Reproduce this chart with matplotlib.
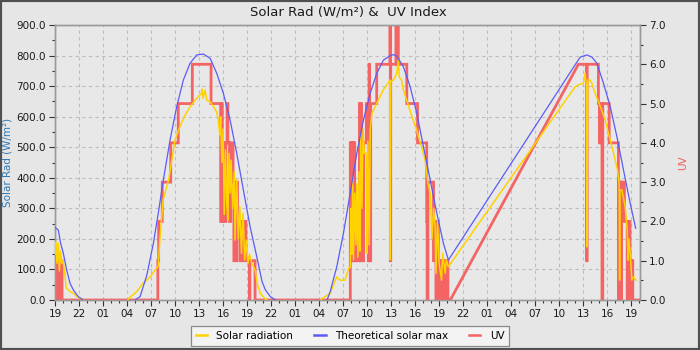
import matplotlib
matplotlib.use("Agg")
import matplotlib.pyplot as plt
import numpy as np
from matplotlib.ticker import MultipleLocator, FormatStrFormatter
from matplotlib.patches import Rectangle
from matplotlib.lines import Line2D

nan = np.nan

# ---- data (hours since 19:00 of the first day) ----
tick_hours = list(range(0, 73, 3))
tick_labels = ["19", "22", "01", "04", "07", "10", "13", "16",
               "19", "22", "01", "04", "07", "10", "13", "16",
               "19", "22", "01", "04", "07", "10", "13", "16", "19"]

solar_t = [0.0, 0.1, 0.25, 0.4, 0.55, 0.7, 0.85, 1.0, 1.2, 1.4, 1.65, 2.0, 2.3, 2.7, 3.2, 3.6,
           6.0,
           9.1, 9.2, 10.2, 11.0, 11.9, 12.5, 12.9, 13.1, 13.5, 14.2, 14.6, 15.0, 15.6, 16.25, 16.9,
           17.5, 17.9, 18.3, 18.4, 18.5, 18.75, 18.96, 19.4, 19.8, 20.2, 20.4, 20.6, 20.7, 20.85,
           21.0, 21.15, 21.3, 21.45, 21.6, 21.75, 21.9, 22.0, 22.2, 22.4, 22.5, 22.7, 22.9, 23.1,
           23.3, 23.5, 23.7, 23.9, 24.1, 24.3, 24.6, 25.0, 25.3, 25.7, 26.2, 26.5,
           30.0,
           33.2, 33.4, 34.4, 35.2, 35.6, 36.25, 36.7, 36.9, 37.0, 37.1, 37.2, 37.3, 37.45, 37.6,
           37.7, 37.85, 38.0, 38.1, 38.2, 38.35, 38.5, 38.65, 38.9, 39.0, 39.1, 39.25, 39.4, 39.6,
           40.2, 41.0, 41.6, 41.85, 41.9, 41.95, 42.3, 42.7, 42.9, 43.0, 43.3, 43.5, 43.95, 44.6,
           45.2, 45.8, 46.25, 46.6, 46.9, 47.1, 47.3, 47.5, 47.6, 47.8, 48.0, 48.3, 48.45, 48.75,
           48.9, 49.15,
           65.0, 65.5, 66.04, 66.25, 66.4, 66.46, 66.52, 66.58, 66.875, 67.09, 67.5, 67.9, 68.3,
           68.75, 69.16, 69.6, 70.0, 70.29, 70.5, 70.55, 70.6, 70.83, 71.25, 71.5, 71.6, 71.7,
           71.875, 72.08, 72.3, 72.6]
solar_v = [150, 190, 120, 185, 95, 160, 120, 130, 90, 40, 33, 25, 22, 12, 5, 0,
           nan,
           0, 5, 27, 55, 76, 98, 110, 196, 327, 393, 458, 524, 567, 605, 633,
           654, 665, 676, 690, 660, 687, 654, 649, 633, 616, 589, 540, 600, 450,
           560, 280, 491, 320, 262, 480, 350, 458, 300, 420, 196, 393, 200, 305,
           153, 284, 131, 196, 120, 150, 120, 98, 50, 20, 5, 0,
           nan,
           0, 5, 22, 76, 65, 65, 104, 107, 300, 150, 404, 131, 350, 180,
           380, 140, 420, 160, 545, 300, 560, 480, 480, 153, 520, 180, 560, 611,
           643, 687, 709, 720, 131, 715, 720, 742, 785, 730, 720, 690, 654, 600,
           556, 502, 458, 382, 349, 200, 300, 240, 87, 262, 120, 65, 153, 87,
           131, 109,
           698, 705, 710, 742, 700, 174, 447, 720, 720, 709, 676, 649, 622,
           589, 545, 502, 458, 425, 380, 65, 360, 360, 305, 230, 130, 200,
           153, 65, 76, 65]

theo_t = [0.0, 0.41, 0.71, 1.04, 1.46, 1.88, 2.29, 2.91, 3.54,
          6.0,
          10.0, 10.63, 11.46, 12.29, 12.88, 13.54, 14.38, 15.21, 16.04, 16.88, 17.71, 18.54,
          19.38, 20.21, 21.04, 21.88, 22.71, 23.54, 24.38, 25.21, 25.88, 26.29, 26.91, 27.54,
          30.0,
          34.0, 34.38, 35.21, 36.04, 36.88, 37.71, 38.54, 39.38, 40.21, 41.04, 41.9, 42.3,
          42.71, 43.54, 44.38, 45.21, 46.04, 46.88, 47.71, 48.54, 49.16,
          65.0, 65.63, 66.46, 67.09, 67.71, 68.54, 69.38, 70.21, 71.04, 71.88, 72.56]
theo_v = [238, 229, 185, 153, 98, 55, 33, 11, 0,
          nan,
          0, 11, 80, 185, 280, 393, 524, 633, 720, 775, 802, 805,
          791, 742, 676, 589, 480, 360, 240, 142, 60, 33, 11, 0,
          nan,
          0, 27, 109, 218, 349, 480, 589, 676, 742, 785, 800, 803,
          798, 763, 698, 611, 502, 393, 284, 185, 131,
          770, 795, 802, 795, 775, 709, 633, 535, 425, 316, 235]

# UV index as steps: value holds from each time until the next one
uv_t = [0.0, 0.12, 0.17, 0.3, 0.35, 0.5, 0.55, 0.7, 0.75, 0.88,
        12.85, 12.95, 13.4, 14.46, 15.4, 17.16, 19.5,
        20.7, 20.8, 20.9, 21.0, 21.2, 21.35, 21.5, 21.6, 21.8, 21.95,
        22.25, 22.35, 22.45, 22.6, 22.7, 22.8, 23.1, 23.2, 23.5, 23.6, 23.85, 24.3, 24.35, 25.0,
        36.9, 37.0, 37.05, 37.15, 37.2, 37.3, 37.35, 37.45, 37.7, 37.75,
        38.05, 38.15, 38.2, 38.3, 38.5, 38.55, 38.9, 39.15, 39.25, 39.3, 39.45,
        40.2, 41.85, 41.9, 41.95, 42.6, 42.7, 42.75, 42.9, 43.96, 45.3,
        46.45, 46.5, 46.6, 47.3, 47.4, 47.6, 47.7, 47.9,
        48.0, 48.1, 48.3, 48.4, 48.6, 48.7, 48.85, 48.95, 49.1,
        49.4, 65.4,
        66.43, 66.5, 67.9, 68.05, 68.1, 68.35, 68.45, 69.25,
        70.4, 70.5, 70.75, 70.8, 71.15, 71.5, 71.55, 71.65, 71.75, 71.85, 71.9, 72.05, 72.1,
        72.2, 73.1]
uv_v = [1, 0, 1, 0, 1, 0, 1, 0, 1, 0,
        1, 2, 3, 4, 5, 6, 5,
        2, 5, 2, 4, 2, 4, 5, 4, 2, 4,
        3, 1, 3, 1, 3, 2, 1, 2, 1, 2, 1, 0, 1, 0,
        4, 1, 4, 1, 4, 1, 4, 1, 2, 1,
        5, 1, 5, 4, 1, 4, 5, 1, 6, 1, 5,
        6, 7, 1, 6, 7, 6, 7, 6, 5, 4,
        2, 0, 3, 1, 2, 0, 2, 1,
        0, 1, 0, 1, 0, 1, 0, 1, 0,
        0, 6,
        1, 6, 5, 4, 5, 0, 5, 4,
        0, 3, 0, 3, 2, 0, 2, 1, 2, 0, 1, 0, 1,
        0, 0]
uv_gap = (49.4, 65.4)   # readings missing between these times

# ---- build UV polyline (steps, straight across the gap) ----
px, py = [uv_t[0]], [uv_v[0]]
for i in range(1, len(uv_t)):
    if uv_t[i - 1] == uv_gap[0] and uv_t[i] == uv_gap[1]:
        px.append(uv_t[i]); py.append(uv_v[i])
        continue
    px.append(uv_t[i]); py.append(uv_v[i - 1])
    px.append(uv_t[i]); py.append(uv_v[i])

c_solar = "#ffd200"
c_theo = "#5c5cf5"
c_uv = "#f46464"
bg = "#e6e6e6"

fig = plt.figure(figsize=(7, 3.5), dpi=100, facecolor=bg)
pos = [55 / 700, 50 / 350, 585 / 700, 275 / 350]
ax = fig.add_axes(pos)
ax.set_facecolor("#e8e8e8")
ax_uv = ax.twinx()
ax_top = fig.add_axes(pos, sharex=ax, sharey=ax, frameon=False)
ax_top.axis("off")

ax_uv.plot(px, py, color=c_uv, lw=2.0, solid_joinstyle="miter")
ax_top.plot(solar_t, solar_v, color=c_solar, lw=1.1)
ax_top.plot(theo_t, theo_v, color=c_theo, lw=0.9)

ax.set_xlim(0, 73.1)
ax.set_ylim(0, 900)
ax_uv.set_ylim(0, 7)

ax.set_xticks(tick_hours)
ax.set_xticklabels(tick_labels)
ax.xaxis.set_minor_locator(MultipleLocator(1))
ax.yaxis.set_major_locator(MultipleLocator(100))
ax.yaxis.set_minor_locator(MultipleLocator(50))
ax.yaxis.set_major_formatter(FormatStrFormatter("%.1f"))
ax_uv.yaxis.set_major_locator(MultipleLocator(1))
ax_uv.yaxis.set_minor_locator(MultipleLocator(0.5))
ax_uv.yaxis.set_major_formatter(FormatStrFormatter("%.1f"))

ax.grid(True, which="major", color="#bdbdbd", linestyle=(0, (3, 3)), linewidth=0.8)
ax.set_axisbelow(True)

for a in (ax, ax_uv):
    for s in a.spines.values():
        s.set_color("#9a9a9a")
        s.set_linewidth(1.0)
    a.tick_params(which="major", length=4, width=0.8, color="#333333",
                  labelsize=7.5, labelcolor="#1a1a1a", pad=2.5)
    a.tick_params(which="minor", length=2.5, width=0.8, color="#333333")

fig.text(0.497, 1 - 12 / 350, "Solar Rad (W/m²) &  UV Index", ha="center", va="center",
         fontsize=9.5, color="#1a1a1a")
fig.text(8 / 700, 0.5357, "Solar Rad (W/m²)", rotation=90, ha="center", va="center",
         fontsize=7.5, color="#2e78b4")
fig.text(683 / 700, 0.5357, "UV", rotation=90, ha="center", va="center",
         fontsize=7.5, color="#ee5f5f")

handles = [Line2D([], [], color=c_solar, lw=1.8),
           Line2D([], [], color=c_theo, lw=1.8),
           Line2D([], [], color=c_uv, lw=1.8)]
leg = fig.legend(handles, ["Solar radiation", "Theoretical solar max", "UV"],
                 loc="center", bbox_to_anchor=(0.5, 1 - 336 / 350), ncol=3,
                 frameon=True, fancybox=False, edgecolor="#8a8a8a", facecolor="#f3f3f3",
                 framealpha=1, fontsize=7.5, handlelength=1.1, handletextpad=0.9,
                 columnspacing=2.0, borderpad=0.45)
leg.get_frame().set_linewidth(0.9)

fig.patches.append(Rectangle((0, 0), 1, 1, transform=fig.transFigure, fill=False,
                             edgecolor="#505050", linewidth=3))

fig.savefig("out.png", dpi=100, facecolor=bg)
